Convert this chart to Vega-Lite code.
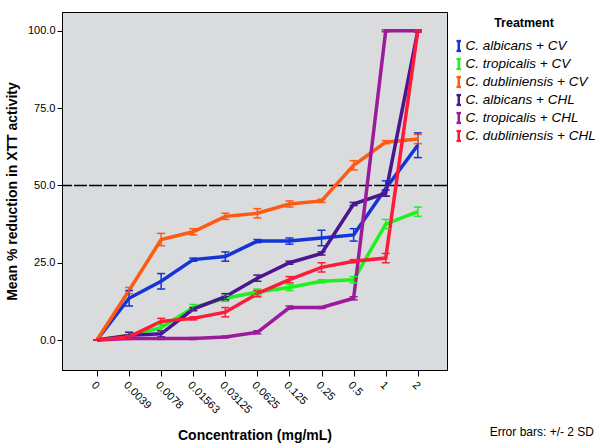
{
  "$schema": "https://vega.github.io/schema/vega-lite/v6.json",
  "width": 385,
  "height": 358,
  "autosize": {"type": "none"},
  "padding": {"left": 62, "top": 12, "right": 153, "bottom": 78},
  "background": "white",
  "config": {
    "font": "Liberation Sans",
    "view": {"fill": "#d9dbdc", "stroke": "#000000", "strokeWidth": 1}
  },
  "title": {
    "text": "Error bars: +/- 2 SD",
    "orient": "bottom",
    "anchor": "end",
    "frame": "bounds",
    "fontSize": 12,
    "fontWeight": "normal",
    "font": "Liberation Sans",
    "color": "black",
    "offset": -16,
    "dx": -7
  },
  "data": {
    "values": [
      {"treatment": "C. albicans + CV", "conc": "0", "mean": 0, "err": 0},
      {"treatment": "C. albicans + CV", "conc": "0.0039", "mean": 13.5, "err": 2.5},
      {"treatment": "C. albicans + CV", "conc": "0.0078", "mean": 19, "err": 2.5},
      {"treatment": "C. albicans + CV", "conc": "0.01563", "mean": 26, "err": 0.5},
      {"treatment": "C. albicans + CV", "conc": "0.03125", "mean": 27, "err": 1.5},
      {"treatment": "C. albicans + CV", "conc": "0.0625", "mean": 32, "err": 0.5},
      {"treatment": "C. albicans + CV", "conc": "0.125", "mean": 32, "err": 1},
      {"treatment": "C. albicans + CV", "conc": "0.25", "mean": 33, "err": 2.5},
      {"treatment": "C. albicans + CV", "conc": "0.5", "mean": 34, "err": 2},
      {"treatment": "C. albicans + CV", "conc": "1", "mean": 49, "err": 2.5},
      {"treatment": "C. albicans + CV", "conc": "2", "mean": 63, "err": 4},
      {"treatment": "C. tropicalis + CV", "conc": "0", "mean": 0, "err": 0},
      {"treatment": "C. tropicalis + CV", "conc": "0.0039", "mean": 1.5, "err": 1},
      {"treatment": "C. tropicalis + CV", "conc": "0.0078", "mean": 4, "err": 1},
      {"treatment": "C. tropicalis + CV", "conc": "0.01563", "mean": 10.5, "err": 1},
      {"treatment": "C. tropicalis + CV", "conc": "0.03125", "mean": 13.5, "err": 1},
      {"treatment": "C. tropicalis + CV", "conc": "0.0625", "mean": 15.5, "err": 1},
      {"treatment": "C. tropicalis + CV", "conc": "0.125", "mean": 17, "err": 1},
      {"treatment": "C. tropicalis + CV", "conc": "0.25", "mean": 19, "err": 0.5},
      {"treatment": "C. tropicalis + CV", "conc": "0.5", "mean": 19.5, "err": 1},
      {"treatment": "C. tropicalis + CV", "conc": "1", "mean": 37.5, "err": 1.5},
      {"treatment": "C. tropicalis + CV", "conc": "2", "mean": 41.5, "err": 1.5},
      {"treatment": "C. dubliniensis + CV", "conc": "0", "mean": 0, "err": 0},
      {"treatment": "C. dubliniensis + CV", "conc": "0.0039", "mean": 16, "err": 1},
      {"treatment": "C. dubliniensis + CV", "conc": "0.0078", "mean": 32.5, "err": 2},
      {"treatment": "C. dubliniensis + CV", "conc": "0.01563", "mean": 35, "err": 1},
      {"treatment": "C. dubliniensis + CV", "conc": "0.03125", "mean": 40, "err": 1},
      {"treatment": "C. dubliniensis + CV", "conc": "0.0625", "mean": 41, "err": 1.5},
      {"treatment": "C. dubliniensis + CV", "conc": "0.125", "mean": 44, "err": 1},
      {"treatment": "C. dubliniensis + CV", "conc": "0.25", "mean": 45, "err": 0.5},
      {"treatment": "C. dubliniensis + CV", "conc": "0.5", "mean": 56.5, "err": 1.5},
      {"treatment": "C. dubliniensis + CV", "conc": "1", "mean": 64, "err": 0.5},
      {"treatment": "C. dubliniensis + CV", "conc": "2", "mean": 65, "err": 1.5},
      {"treatment": "C. albicans + CHL", "conc": "0", "mean": 0, "err": 0},
      {"treatment": "C. albicans + CHL", "conc": "0.0039", "mean": 1.5, "err": 1},
      {"treatment": "C. albicans + CHL", "conc": "0.0078", "mean": 2, "err": 1},
      {"treatment": "C. albicans + CHL", "conc": "0.01563", "mean": 10, "err": 0.5},
      {"treatment": "C. albicans + CHL", "conc": "0.03125", "mean": 14, "err": 1},
      {"treatment": "C. albicans + CHL", "conc": "0.0625", "mean": 20, "err": 1},
      {"treatment": "C. albicans + CHL", "conc": "0.125", "mean": 25, "err": 0.5},
      {"treatment": "C. albicans + CHL", "conc": "0.25", "mean": 28, "err": 0.5},
      {"treatment": "C. albicans + CHL", "conc": "0.5", "mean": 44, "err": 0.5},
      {"treatment": "C. albicans + CHL", "conc": "1", "mean": 47.5, "err": 1},
      {"treatment": "C. albicans + CHL", "conc": "2", "mean": 100, "err": 0.3},
      {"treatment": "C. tropicalis + CHL", "conc": "0", "mean": 0, "err": 0},
      {"treatment": "C. tropicalis + CHL", "conc": "0.0039", "mean": 0.5, "err": 0.3},
      {"treatment": "C. tropicalis + CHL", "conc": "0.0078", "mean": 0.5, "err": 0.3},
      {"treatment": "C. tropicalis + CHL", "conc": "0.01563", "mean": 0.5, "err": 0.3},
      {"treatment": "C. tropicalis + CHL", "conc": "0.03125", "mean": 1, "err": 0.3},
      {"treatment": "C. tropicalis + CHL", "conc": "0.0625", "mean": 2.5, "err": 0.5},
      {"treatment": "C. tropicalis + CHL", "conc": "0.125", "mean": 10.5, "err": 0.5},
      {"treatment": "C. tropicalis + CHL", "conc": "0.25", "mean": 10.5, "err": 0.3},
      {"treatment": "C. tropicalis + CHL", "conc": "0.5", "mean": 13.5, "err": 0.5},
      {"treatment": "C. tropicalis + CHL", "conc": "1", "mean": 100, "err": 0.3},
      {"treatment": "C. tropicalis + CHL", "conc": "2", "mean": 100, "err": 0.3},
      {"treatment": "C. dubliniensis + CHL", "conc": "0", "mean": 0, "err": 0},
      {"treatment": "C. dubliniensis + CHL", "conc": "0.0039", "mean": 1, "err": 0.5},
      {"treatment": "C. dubliniensis + CHL", "conc": "0.0078", "mean": 6, "err": 1},
      {"treatment": "C. dubliniensis + CHL", "conc": "0.01563", "mean": 7, "err": 0.5},
      {"treatment": "C. dubliniensis + CHL", "conc": "0.03125", "mean": 9, "err": 1.5},
      {"treatment": "C. dubliniensis + CHL", "conc": "0.0625", "mean": 15, "err": 1},
      {"treatment": "C. dubliniensis + CHL", "conc": "0.125", "mean": 19.5, "err": 1},
      {"treatment": "C. dubliniensis + CHL", "conc": "0.25", "mean": 23.5, "err": 1.5},
      {"treatment": "C. dubliniensis + CHL", "conc": "0.5", "mean": 25.5, "err": 0.5},
      {"treatment": "C. dubliniensis + CHL", "conc": "1", "mean": 26.5, "err": 1.5},
      {"treatment": "C. dubliniensis + CHL", "conc": "2", "mean": 100, "err": 0.3}
    ]
  },
  "layer": [
    {
      "data": {"values": [{"ref": 50}]},
      "mark": {"type": "rule", "color": "black", "strokeWidth": 1.5, "strokeDash": [13, 2]},
      "encoding": {"y": {"field": "ref", "type": "quantitative", "title": "Mean % reduction in XTT activity"}}
    },
    {
      "mark": {"type": "line", "strokeWidth": 3.5},
      "encoding": {
        "x": {
          "field": "conc",
          "type": "ordinal",
          "title": "Concentration (mg/mL)",
          "sort": ["0", "0.0039", "0.0078", "0.01563", "0.03125", "0.0625", "0.125", "0.25", "0.5", "1", "2"],
          "scale": {"type": "point", "padding": 1.034, "align": 0.545},
          "axis": {
            "title": "Concentration (mg/mL)",
            "titleFontSize": 14,
            "titleFontWeight": "bold",
            "titleColor": "black",
            "titlePadding": 14,
            "labelAngle": 45,
            "labelAlign": "left",
            "labelBaseline": "top",
            "labelFontSize": 11,
            "labelColor": "black",
            "labelPadding": 3,
            "tickSize": 6,
            "tickColor": "black",
            "domainColor": "black",
            "grid": false
          }
        },
        "y": {
          "field": "mean",
          "type": "quantitative",
          "title": "Mean % reduction in XTT activity",
          "scale": {"domain": [-9.7, 106.1], "nice": false, "zero": false},
          "axis": {
            "title": "Mean % reduction in XTT activity",
            "titleFontSize": 14,
            "titleFontWeight": "bold",
            "titleColor": "black",
            "titlePadding": 8,
            "values": [0, 25, 50, 75, 100],
            "format": ".1f",
            "labelFontSize": 11,
            "labelColor": "black",
            "tickSize": 5,
            "tickColor": "black",
            "domainColor": "black",
            "grid": false
          }
        },
        "color": {
          "field": "treatment",
          "type": "nominal",
          "title": "Treatment",
          "scale": {
            "domain": ["C. albicans + CV", "C. tropicalis + CV", "C. dubliniensis + CV", "C. albicans + CHL", "C. tropicalis + CHL", "C. dubliniensis + CHL"],
            "range": ["#1434d8", "#1ff01f", "#ff5a12", "#4a1590", "#9c1a9c", "#ff1a3a"]
          },
          "legend": {
            "title": "Treatment",
            "titleFontSize": 12.5,
            "titleFontWeight": "bold",
            "titleColor": "black",
            "titleAnchor": "middle",
            "titlePadding": 10,
            "labelFontSize": 13.5,
            "labelFontStyle": "italic",
            "labelColor": "black",
            "labelOffset": 0,
            "symbolType": "M-0.45,-1H0.45M0,-1V1M-0.45,1H0.45",
            "symbolSize": 100,
            "symbolStrokeWidth": 2.5,
            "clipHeight": 13,
            "rowPadding": 4,
            "offset": 0,
            "padding": 5
          }
        }
      }
    },
    {
      "mark": {"type": "errorbar", "thickness": 1.5, "opacity": 1, "ticks": {"size": 8, "thickness": 1.5, "opacity": 1}},
      "encoding": {
        "x": {"field": "conc", "type": "ordinal", "title": "Concentration (mg/mL)", "sort": ["0", "0.0039", "0.0078", "0.01563", "0.03125", "0.0625", "0.125", "0.25", "0.5", "1", "2"]},
        "y": {"field": "mean", "type": "quantitative", "title": "Mean % reduction in XTT activity"},
        "yError": {"field": "err"},
        "color": {"field": "treatment", "type": "nominal", "title": "Treatment"}
      }
    }
  ]
}
